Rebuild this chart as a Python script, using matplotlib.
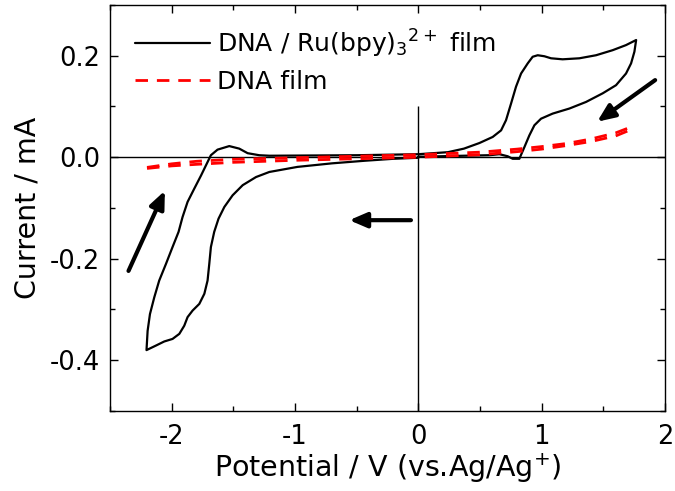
import matplotlib
matplotlib.use("Agg")
import matplotlib.pyplot as plt
from matplotlib.ticker import MultipleLocator

# ---- data ----
# DNA / Ru(bpy)3 2+ film: scan starts at 0 V towards negative potentials
ru_potential = [0.0, -0.2, -0.44, -0.7, -0.98, -1.208, -1.316, -1.424, -1.506, -1.573,
                -1.620, -1.655, -1.682, -1.695, -1.709, -1.735, -1.776, -1.830, -1.871,
                -1.898, -1.938, -1.993, -2.060, -2.127, -2.204,
                -2.195, -2.176, -2.141, -2.101, -2.046, -1.993, -1.944, -1.912, -1.871,
                -1.817, -1.762, -1.722, -1.682, -1.628, -1.533, -1.452, -1.384, -1.290,
                -1.208, -0.5, 0.0, 0.24, 0.37, 0.495, 0.603, 0.671, 0.711, 0.752, 0.792,
                0.833, 0.887, 0.927, 0.968, 1.022, 1.076, 1.170, 1.306, 1.441, 1.576,
                1.684, 1.766,
                1.752, 1.725, 1.684, 1.603, 1.495, 1.360, 1.225, 1.089, 0.995, 0.941,
                0.900, 0.860, 0.819, 0.765, 0.724, 0.657, 0.576, 0.37, 0.0]
ru_current = [-0.001, -0.003, -0.007, -0.012, -0.019, -0.029, -0.039, -0.055, -0.075, -0.098,
              -0.121, -0.147, -0.177, -0.210, -0.243, -0.269, -0.289, -0.302, -0.315,
              -0.332, -0.348, -0.358, -0.363, -0.371, -0.380,
              -0.342, -0.309, -0.276, -0.243, -0.210, -0.177, -0.147, -0.118, -0.088,
              -0.062, -0.036, -0.016, 0.004, 0.015, 0.022, 0.017, 0.008, 0.004,
              0.003, 0.004, 0.006, 0.010, 0.017, 0.028, 0.040, 0.053, 0.073, 0.106, 0.139,
              0.165, 0.185, 0.198, 0.201, 0.199, 0.195, 0.193, 0.195, 0.201, 0.211,
              0.221, 0.231,
              0.208, 0.185, 0.165, 0.142, 0.126, 0.109, 0.096, 0.086, 0.076, 0.063,
              0.043, 0.020, -0.003, -0.003, 0.002, 0.006, 0.004, 0.003, 0.001]

# DNA film: upper (anodic) branch and lower branch, both listed from -2.2 V to 1.75 V
dna_upper_potential = [-2.2, -2.0, -1.8, -1.5, -1.0, -0.5, 0.0, 0.5, 0.8, 1.0, 1.2, 1.4, 1.6, 1.75]
dna_upper_current = [-0.020, -0.013, -0.008, -0.004, -0.001, 0.002, 0.005, 0.010, 0.016, 0.021,
                     0.027, 0.036, 0.048, 0.062]
dna_lower_potential = [-2.2, -2.0, -1.8, -1.5, -1.0, -0.5, 0.0, 0.5, 0.8, 1.0, 1.2, 1.4, 1.6, 1.70]
dna_lower_current = [-0.022, -0.017, -0.014, -0.010, -0.006, -0.003, 0.000, 0.005, 0.011, 0.016,
                     0.023, 0.031, 0.042, 0.052]

# scan-direction arrows: (potential, current) of tail and head
arrow_starts = [(-2.35, -0.224), (-0.06, -0.124), (1.92, 0.152)]
arrow_ends = [(-2.055, -0.066), (-0.56, -0.124), (1.45, 0.070)]

series_labels = ["DNA / Ru(bpy)$_3$$^{2+}$ film", "DNA film"]
x_label = "Potential / V (vs.Ag/Ag$^{+}$)"
y_label = "Current / mA"

# ---- figure ----
plt.rcParams['font.family'] = ['DejaVu Sans']
plt.rcParams['mathtext.default'] = 'regular'
fig = plt.figure(figsize=(6.75, 4.91), dpi=100)
ax = fig.add_axes([110 / 675, 1 - 411 / 491, 555 / 675, 406 / 491])

ax.axhline(0, color='black', lw=1.0, zorder=1)
ax.vlines(0, -0.5, 0.1, color='black', lw=1.0, zorder=1)

ax.plot(ru_potential, ru_current, color='black', lw=1.6, label=series_labels[0], zorder=2,
        solid_joinstyle='round', solid_capstyle='round')
dash = (0, (4.5, 3.2))
ax.plot(dna_upper_potential, dna_upper_current, color='#ff0000', lw=2.0, linestyle=dash,
        label=series_labels[1], zorder=3)
ax.plot(dna_lower_potential, dna_lower_current, color='#ff0000', lw=2.0, linestyle=dash,
        zorder=3)

for (x0, y0), (x1, y1) in zip(arrow_starts, arrow_ends):
    ax.annotate('', xy=(x1, y1), xytext=(x0, y0),
                arrowprops=dict(arrowstyle='-|>,head_length=0.7,head_width=0.3',
                                lw=3, color='black', shrinkA=0, shrinkB=0,
                                mutation_scale=15))

ax.set_xlim(-2.5, 2.0)
ax.set_ylim(-0.5, 0.3)
ax.xaxis.set_major_locator(MultipleLocator(1))
ax.xaxis.set_minor_locator(MultipleLocator(0.5))
ax.yaxis.set_major_locator(MultipleLocator(0.2))
ax.yaxis.set_minor_locator(MultipleLocator(0.1))
ax.tick_params(which='both', direction='in', top=True, right=True, width=1.0,
               labelsize=18.5)
ax.tick_params(which='major', length=5.8)
ax.tick_params(which='minor', length=3.6)
ax.tick_params(axis='y', pad=7)
ax.tick_params(axis='x', pad=9)

ax.xaxis.set_major_formatter(plt.FuncFormatter(lambda v, p: f"{v:g}"))
ax.yaxis.set_major_formatter(plt.FuncFormatter(lambda v, p: f"{v:.1f}"))

for s in ax.spines.values():
    s.set_linewidth(1.0)

ax.set_xlabel(x_label, fontsize=20.5, labelpad=1)
ax.set_ylabel(y_label, fontsize=20.5, labelpad=6)

ax.legend(loc='upper left', bbox_to_anchor=(0.045, 0.945), frameon=False, fontsize=18,
          handlelength=3.0, handletextpad=0.28, labelspacing=0.42, borderaxespad=0,
          borderpad=0)

fig.savefig('out.png', dpi=100)
